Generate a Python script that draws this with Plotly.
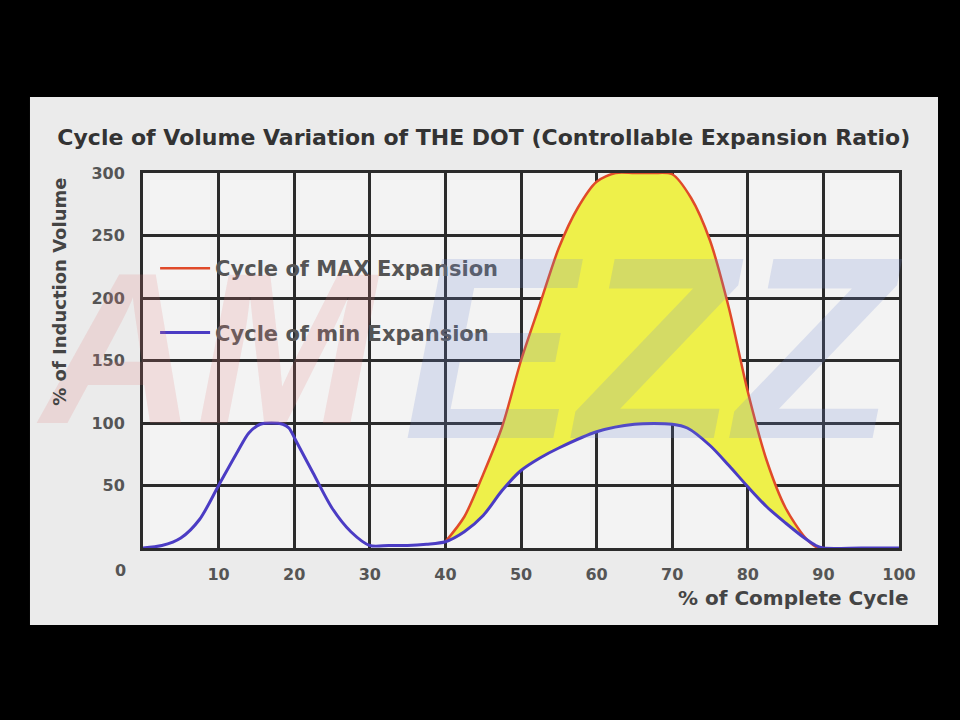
import plotly.graph_objects as go

# % of complete cycle / % of induction volume
min_x = [0, 2.5, 5, 7.5, 10, 12.5, 14, 15.5, 17, 18.5, 19.3, 20.3, 22.5, 25, 27.5, 30,
         32.5, 35, 37.5, 40, 42.5, 45, 47.5, 50, 52.5, 55, 60, 65, 70, 72, 75, 77.5, 80,
         82.5, 85, 87.5, 89, 90, 95, 100]
min_y = [0, 2, 8, 23, 50, 77, 92, 99, 100, 99, 96, 85, 60, 32, 13, 2,
         2, 2, 3, 5, 13, 26, 46, 62, 72, 80, 93, 99, 99, 96, 82, 66, 49,
         33, 20, 8, 2, 0, 0, 0]

max_x = [40, 42.5, 45, 47.5, 50, 52.5, 55, 57.5, 60, 62.5, 65, 67.5, 70, 72.5, 75,
         77.5, 80, 82.5, 85, 87.5, 89, 90]
max_y = [5, 25, 59, 97, 150, 195, 240, 272, 293, 300, 300, 300, 299, 280, 246,
         192, 125, 70, 32, 9, 1, 0]

x_ticks = [10, 20, 30, 40, 50, 60, 70, 80, 90, 100]
y_ticks = [50, 100, 150, 200, 250, 300]

FONT = "DejaVu Sans"
RED = "#e04a2a"
BLUE = "#4b3cc4"
SPLINE = dict(shape="spline", smoothing=0.8)

# blue part under the red hump, used as the base of the yellow fill
base_x = [x for x in min_x if 40 <= x <= 90]
base_y = [y for x, y in zip(min_x, min_y) if 40 <= x <= 90]

fig = go.Figure()
fig.add_trace(go.Scatter(x=base_x, y=base_y, mode="lines", line=dict(width=0, **SPLINE),
                         showlegend=False, hoverinfo="skip"))
fig.add_trace(go.Scatter(x=max_x, y=max_y, mode="lines", line=dict(width=0, **SPLINE),
                         fill="tonexty", fillcolor="#eef04a", showlegend=False, hoverinfo="skip"))
fig.add_trace(go.Scatter(x=max_x, y=max_y, mode="lines", name="Cycle of MAX Expansion", legendgroup="max",
                         line=dict(color=RED, width=2.5, **SPLINE)))
fig.add_trace(go.Scatter(x=min_x, y=min_y, mode="lines", name="Cycle of min Expansion", legendgroup="min",
                         line=dict(color=BLUE, width=3, **SPLINE)))

axis_common = dict(showgrid=True, gridcolor="#2b2b2b", gridwidth=3, showline=True, linecolor="#2b2b2b",
                   linewidth=3, mirror=True, ticks="", zeroline=False,
                   tickfont=dict(family=FONT, size=16, color="#555555", weight="bold"))

fig.update_layout(
    width=960, height=720,
    margin=dict(l=143, r=61, t=173, b=172),
    paper_bgcolor="black",
    plot_bgcolor="rgba(0,0,0,0)",
    title=dict(text="Cycle of Volume Variation of THE DOT (Controllable Expansion Ratio)",
               x=0.504, xanchor="center", y=0.81, yanchor="middle",
               font=dict(family=FONT, size=22, color="#333333", weight="bold")),
    xaxis=dict(range=[0, 100], tickvals=x_ticks, ticklabelstandoff=10, **axis_common),
    yaxis=dict(range=[0, 300], tickvals=y_ticks, ticklabelstandoff=12, **axis_common),
    legend=dict(x=0.016, y=0.80, xanchor="left", yanchor="top", bgcolor="rgba(0,0,0,0)",
                traceorder="grouped", tracegroupgap=34, itemwidth=50,
                font=dict(family=FONT, size=21, color="#555555", weight="bold")),
    showlegend=True,
)

# light panel behind the chart
fig.add_shape(type="rect", xref="paper", yref="paper", x0=-0.1495, x1=1.0516, y0=-0.2053, y1=1.2027,
              fillcolor="#ebebeb", line=dict(width=0), layer="below")
fig.add_shape(type="rect", xref="paper", yref="paper", x0=0, x1=1, y0=0, y1=1,
              fillcolor="#f3f3f3", line=dict(width=0), layer="below")

# faint watermark
fig.add_annotation(xref="paper", yref="paper", x=0.085, y=0.533, showarrow=False,
                   xanchor="center", yanchor="middle", text="<b><i>AM</i></b>",
                   font=dict(family="Liberation Sans", size=215, color="rgba(225,120,120,0.18)"))
fig.add_annotation(xref="paper", yref="paper", x=0.677, y=0.533, showarrow=False,
                   xanchor="center", yanchor="middle", text="<b><i>EZZ</i></b>",
                   font=dict(family="Liberation Sans", size=260, color="rgba(110,135,210,0.2)"))

fig.add_annotation(xref="paper", yref="paper", x=-0.030, y=-0.061, text="0", showarrow=False,
                   xanchor="center", yanchor="middle",
                   font=dict(family=FONT, size=16, color="#555555", weight="bold"))
fig.add_annotation(xref="paper", yref="paper", x=-0.11, y=0.683, text="% of Induction Volume",
                   textangle=-90, showarrow=False, xanchor="center", yanchor="middle",
                   font=dict(family=FONT, size=18, color="#444444", weight="bold"))
fig.add_annotation(xref="paper", yref="paper", x=1.0146, y=-0.133, xanchor="right", yanchor="middle",
                   text="% of Complete Cycle", showarrow=False,
                   font=dict(family=FONT, size=20, color="#444444", weight="bold"))

fig.write_html("out.html", config={"displayModeBar": False},
               post_script="document.body.style.margin='0';")
